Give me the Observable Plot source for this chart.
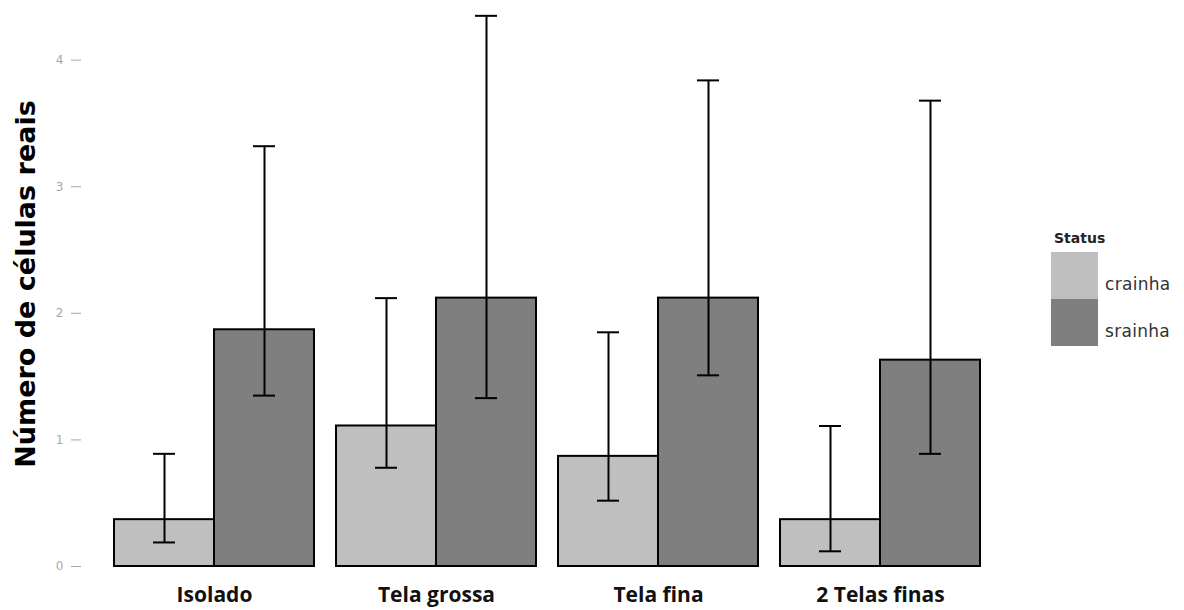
<!DOCTYPE html>
<html>
<head>
<meta charset="utf-8">
<script src="https://cdn.jsdelivr.net/npm/d3@7"></script>
<script src="https://cdn.jsdelivr.net/npm/@observablehq/plot@0.6"></script>
<style>
  body { margin: 0; background: #fff; }
  #wrap { position: relative; width: 1184px; height: 610px; }
  #ytitle { position: absolute; left: 25px; top: 284px; transform: translate(-50%, -50%) rotate(-90deg);
    font-family: "DejaVu Sans", sans-serif; font-weight: bold; font-size: 27px; color: #000; white-space: nowrap; }
  #legend { position: absolute; left: 1051px; top: 230px; font-family: "DejaVu Sans", sans-serif; }
  #legend .ttl { font-weight: bold; font-size: 14px; color: #222; margin-left: 3px; margin-bottom: 6px; }
  #legend .row { display: flex; align-items: center; height: 47px; }
  #legend .sw { width: 47px; height: 47px; }
  #legend .lab { font-size: 17px; letter-spacing: 0.3px; color: #333; margin-left: 7px; margin-top: 16px; }
  [aria-label="fx-axis tick label"] { font-family: "Open Sans", sans-serif; font-size: 21px; font-weight: bold; color: #111; }
</style>
</head>
<body>
<div id="wrap">
  <div id="chart"></div>
  <div id="ytitle">Número de células reais</div>
  <div id="legend"></div>
</div>
<script>
const categories = ["Isolado", "Tela grossa", "Tela fina", "2 Telas finas"];
const statuses = ["crainha", "srainha"];
const statusColors = ["#bfbfbf", "#7f7f7f"];
const crainhaMean = [0.37, 1.11, 0.87, 0.37];
const crainhaLow  = [0.19, 0.78, 0.52, 0.12];
const crainhaHigh = [0.89, 2.12, 1.85, 1.11];
const srainhaMean = [1.87, 2.12, 2.12, 1.63];
const srainhaLow  = [1.35, 1.33, 1.51, 0.89];
const srainhaHigh = [3.32, 4.35, 3.84, 3.68];
const yTicks = [0, 1, 2, 3, 4];

const data = [];
categories.forEach((c, i) => {
  data.push({category: c, status: "crainha", mean: crainhaMean[i], low: crainhaLow[i], high: crainhaHigh[i]});
  data.push({category: c, status: "srainha", mean: srainhaMean[i], low: srainhaLow[i], high: srainhaHigh[i]});
});

const chart = Plot.plot({
  width: 1184,
  height: 610,
  marginLeft: 80,
  marginRight: 171,
  marginTop: 9,
  marginBottom: 44,
  style: {fontFamily: "DejaVu Sans, sans-serif", fontSize: "10px", background: "#fff"},
  fx: {domain: categories, paddingInner: 0.1, paddingOuter: 0.15, label: null, axis: "bottom", tickSize: 0, tickPadding: 21},
  x: {domain: statuses, padding: 0, axis: null},
  y: {domain: [0, 4.4], label: null},
  color: {domain: statuses, range: statusColors},
  marks: [
    Plot.axisY({ticks: yTicks, tickSize: 10, tickPadding: 8, dx: -33, label: null, fontSize: 12, color: "#a8a8a8", tickFormat: d3.format("d")}),
    Plot.barY(data, {fx: "category", x: "status", y: "mean", fill: "status", stroke: "#000", strokeWidth: 2, inset: 0}),
    Plot.ruleX(data, {fx: "category", x: "status", y1: "low", y2: "high", stroke: "#000", strokeWidth: 2}),
    Plot.tickY(data, {fx: "category", x: "status", y: "low", stroke: "#000", strokeWidth: 2, insetLeft: 39, insetRight: 39}),
    Plot.tickY(data, {fx: "category", x: "status", y: "high", stroke: "#000", strokeWidth: 2, insetLeft: 39, insetRight: 39})
  ]
});
document.getElementById("chart").appendChild(chart);

const legend = document.getElementById("legend");
const t = document.createElement("div");
t.className = "ttl"; t.textContent = "Status";
legend.appendChild(t);
statuses.forEach((s, i) => {
  const row = document.createElement("div"); row.className = "row";
  const sw = document.createElement("div"); sw.className = "sw"; sw.style.background = chart.scale("color").apply(s);
  const lab = document.createElement("div"); lab.className = "lab"; lab.textContent = s;
  row.appendChild(sw); row.appendChild(lab); legend.appendChild(row);
});
</script>
</body>
</html>
